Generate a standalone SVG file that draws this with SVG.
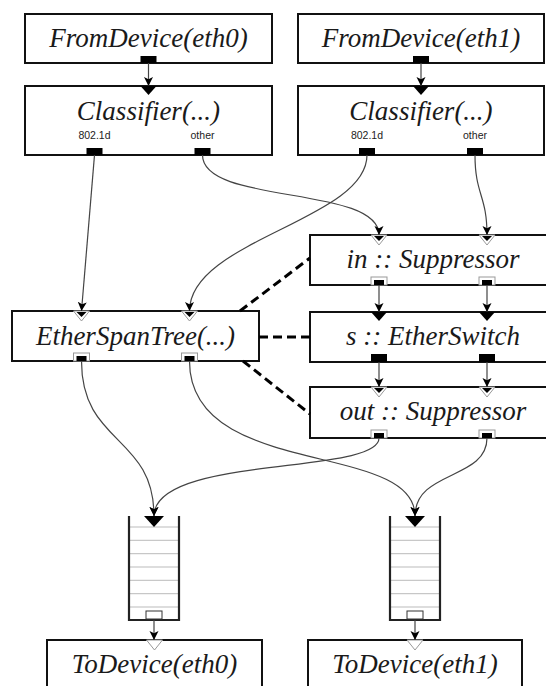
<svg xmlns="http://www.w3.org/2000/svg" width="546" height="686" viewBox="0 0 546 686">
<defs>
<style>
.box{fill:#fff;stroke:#111;stroke-width:2}
.lbl{font-family:'Liberation Serif','DejaVu Serif','Times New Roman',serif;font-style:italic;font-size:27px;fill:#1a1a1a;text-anchor:middle}
.plbl{font-family:'Liberation Sans','DejaVu Sans',sans-serif;font-size:10.5px;fill:#222;text-anchor:middle}
.push{fill:#000}
.agout{fill:#fff;stroke:#999;stroke-width:1}
.agin{fill:#fff;stroke:#999;stroke-width:1}
.pullout{fill:#fff;stroke:#333;stroke-width:1}
.pullin{fill:#fff;stroke:#999;stroke-width:1}
.conn{fill:none;stroke:#444;stroke-width:1.2;marker-end:url(#arr)}
.dash{fill:none;stroke:#000;stroke-width:3;stroke-dasharray:9 5}
.qwall{fill:none;stroke:#222;stroke-width:2.2}
.qline{stroke:#bbb;stroke-width:1}
</style>
<marker id="arr" viewBox="0 0 10 10" refX="10" refY="5" markerWidth="9" markerHeight="10" markerUnits="userSpaceOnUse" orient="auto">
<path d="M0,0 L10,5 L0,10 L2.5,5 z" fill="#000"/>
</marker>
</defs>

<g id="fromdevice0">
<rect class="box" x="25" y="14" width="247" height="49"/>
<text class="lbl" x="148.5" y="47">FromDevice(eth0)</text>
<rect class="push" x="140.5" y="56" width="16" height="7"/>
</g>

<g id="fromdevice1">
<rect class="box" x="298" y="14" width="246" height="49"/>
<text class="lbl" x="421" y="47">FromDevice(eth1)</text>
<rect class="push" x="413" y="56" width="16" height="7"/>
</g>

<g id="classifier0">
<rect class="box" x="25" y="86" width="247" height="69"/>
<polygon class="push" points="140.5,86 156.5,86 148.5,95"/>
<text class="lbl" x="148.5" y="120">Classifier(...)</text>
<text class="plbl" x="94.5" y="139">802.1d</text>
<text class="plbl" x="202.5" y="139">other</text>
<rect class="push" x="86.5" y="148" width="16" height="7"/>
<rect class="push" x="194.5" y="148" width="16" height="7"/>
</g>

<g id="classifier1">
<rect class="box" x="298" y="86" width="246" height="69"/>
<polygon class="push" points="413,86 429,86 421,95"/>
<text class="lbl" x="421" y="120">Classifier(...)</text>
<text class="plbl" x="367" y="139">802.1d</text>
<text class="plbl" x="475" y="139">other</text>
<rect class="push" x="359" y="148" width="16" height="7"/>
<rect class="push" x="467" y="148" width="16" height="7"/>
</g>

<g id="etherspantree">
<rect class="box" x="12" y="311" width="247" height="50"/>
<polygon class="agin" points="73.5,311 89.5,311 81.5,321"/>
<polygon class="push" points="76.5,312 86.5,312 81.5,317"/>
<polygon class="agin" points="181.5,311 197.5,311 189.5,321"/>
<polygon class="push" points="184.5,312 194.5,312 189.5,317"/>
<text class="lbl" x="135.5" y="345">EtherSpanTree(...)</text>
<rect class="agout" x="73.5" y="353" width="16" height="8"/>
<rect class="push" x="76.5" y="356" width="10" height="5"/>
<rect class="agout" x="181.5" y="353" width="16" height="8"/>
<rect class="push" x="184.5" y="356" width="10" height="5"/>
</g>

<g id="in_suppressor">
<rect class="box" x="310" y="235" width="246" height="50"/>
<polygon class="agin" points="371,235 387,235 379,245"/>
<polygon class="push" points="374,236 384,236 379,241"/>
<polygon class="agin" points="479,235 495,235 487,245"/>
<polygon class="push" points="482,236 492,236 487,241"/>
<text class="lbl" x="433" y="268">in :: Suppressor</text>
<rect class="agout" x="371" y="277" width="16" height="8"/>
<rect class="push" x="374" y="280" width="10" height="5"/>
<rect class="agout" x="479" y="277" width="16" height="8"/>
<rect class="push" x="482" y="280" width="10" height="5"/>
</g>

<g id="s_etherswitch">
<rect class="box" x="310" y="312" width="246" height="50"/>
<polygon class="push" points="371,312 387,312 379,321"/>
<polygon class="push" points="479,312 495,312 487,321"/>
<text class="lbl" x="433" y="345">s :: EtherSwitch</text>
<rect class="push" x="371" y="354" width="16" height="8"/>
<rect class="push" x="479" y="354" width="16" height="8"/>
</g>

<g id="out_suppressor">
<rect class="box" x="310" y="387" width="246" height="51"/>
<polygon class="agin" points="371,387 387,387 379,397"/>
<polygon class="push" points="374,388 384,388 379,393"/>
<polygon class="agin" points="479,387 495,387 487,397"/>
<polygon class="push" points="482,388 492,388 487,393"/>
<text class="lbl" x="433" y="420">out :: Suppressor</text>
<rect class="agout" x="371" y="430" width="16" height="8"/>
<rect class="push" x="374" y="433" width="10" height="5"/>
<rect class="agout" x="479" y="430" width="16" height="8"/>
<rect class="push" x="482" y="433" width="10" height="5"/>
</g>

<g id="queue0">
<rect x="129" y="516" width="50" height="104" fill="#fff"/>
<line class="qline" x1="130" y1="527" x2="178" y2="527"/>
<line class="qline" x1="130" y1="540.3" x2="178" y2="540.3"/>
<line class="qline" x1="130" y1="553.7" x2="178" y2="553.7"/>
<line class="qline" x1="130" y1="567" x2="178" y2="567"/>
<line class="qline" x1="130" y1="580.3" x2="178" y2="580.3"/>
<line class="qline" x1="130" y1="593.7" x2="178" y2="593.7"/>
<line class="qline" x1="130" y1="607" x2="178" y2="607"/>
<path class="qwall" d="M129,516 V620 H179 V516"/>
<polygon class="push" points="144,516 164,516 154,527"/>
<rect class="pullout" x="146" y="611" width="16" height="8"/>
</g>

<g id="queue1">
<rect x="390" y="516" width="50" height="104" fill="#fff"/>
<line class="qline" x1="391" y1="527" x2="439" y2="527"/>
<line class="qline" x1="391" y1="540.3" x2="439" y2="540.3"/>
<line class="qline" x1="391" y1="553.7" x2="439" y2="553.7"/>
<line class="qline" x1="391" y1="567" x2="439" y2="567"/>
<line class="qline" x1="391" y1="580.3" x2="439" y2="580.3"/>
<line class="qline" x1="391" y1="593.7" x2="439" y2="593.7"/>
<line class="qline" x1="391" y1="607" x2="439" y2="607"/>
<path class="qwall" d="M390,516 V620 H440 V516"/>
<polygon class="push" points="405,516 425,516 415,527"/>
<rect class="pullout" x="407" y="611" width="16" height="8"/>
</g>

<g id="todevice0">
<rect class="box" x="47" y="640" width="215" height="60"/>
<polygon class="pullin" points="146.5,640 162.5,640 154.5,650"/>
<text class="lbl" x="154.5" y="673">ToDevice(eth0)</text>
</g>

<g id="todevice1">
<rect class="box" x="308" y="640" width="214" height="60"/>
<polygon class="pullin" points="407,640 423,640 415,650"/>
<text class="lbl" x="415" y="673">ToDevice(eth1)</text>
</g>

<g id="connectors">
<path class="conn" d="M148.5,63 V86"/>
<path class="conn" d="M421,63 V86"/>
<path class="conn" d="M94.5,155 L81.5,311"/>
<path class="conn" d="M202.5,155 C202.5,205 379,185 379,235"/>
<path class="conn" d="M367,155 C367,220 189.5,240 189.5,311"/>
<path class="conn" d="M475,155 C475,195 487,195 487,235"/>
<path class="conn" d="M379,285 V312"/>
<path class="conn" d="M487,285 V312"/>
<path class="conn" d="M379,362 V387"/>
<path class="conn" d="M487,362 V387"/>
<path class="conn" d="M81.5,361 C81.5,445 154,435 154,516"/>
<path class="conn" d="M189.5,361 C189.5,480 415,440 415,516"/>
<path class="conn" d="M379,438 C379,475 154,455 154,516"/>
<path class="conn" d="M487,438 C487,480 415,470 415,516"/>
<path class="conn" d="M154,620 V640"/>
<path class="conn" d="M415,620 V640"/>
<path class="dash" d="M240,311 L310,258"/>
<path class="dash" d="M259,337 L310,337"/>
<path class="dash" d="M243,361 L310,414"/>
</g>
</svg>
